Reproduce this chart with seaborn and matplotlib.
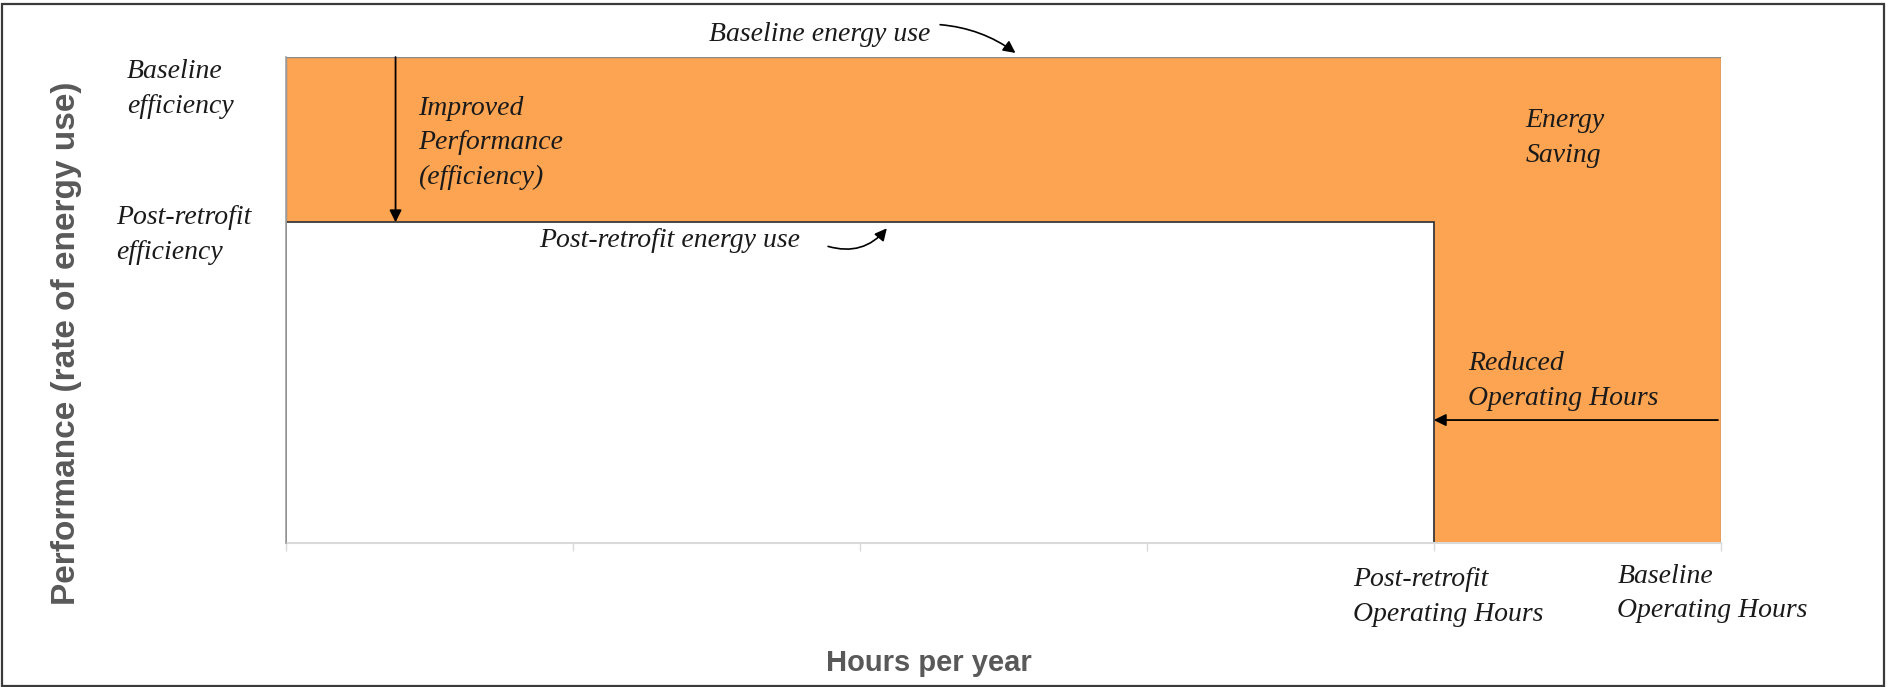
import matplotlib
matplotlib.use("Agg")
import matplotlib.pyplot as plt
import matplotlib.patches as mpatches
import matplotlib.transforms as mtransforms
import seaborn as sns

# --- data (schematic units) ---
scenarios = ["Baseline", "Post-retrofit"]
operating_hours = [5.0, 4.0]        # hours per year (relative)
efficiency = [1.0, 0.66]            # rate of energy use (relative)
bar_colors = ["#FCA451", "white"]
hour_ticks = [0, 1, 2, 3, 4, 5]

sns.set_theme(style="white")
serif = {"family": ["Liberation Serif", "DejaVu Serif"], "style": "italic",
         "color": "#1a1a1a", "fontsize": 20, "linespacing": 1.5}
axis_font = {"weight": "bold", "color": "#595959",
             "family": ["Liberation Sans", "DejaVu Sans"]}

fig = plt.figure(figsize=(18.91, 6.87), dpi=100)
ax = fig.add_axes([0.1512, 0.2096, 0.7588, 0.7074])

# energy-use rectangles: width = hours, height = rate
ax.bar(0, efficiency[0], width=operating_hours[0], align="edge",
       color=bar_colors[0], edgecolor="#8a8a8a", linewidth=1.0, zorder=1)
ax.bar(0, efficiency[1], width=operating_hours[1], align="edge",
       color=bar_colors[1], edgecolor="#3a3a3a", linewidth=1.3, zorder=2)

ax.set_xlim(0, operating_hours[0])
ax.set_ylim(0, efficiency[0])
ax.set_xticks(hour_ticks)
ax.set_xticklabels([])
ax.set_yticks([])
ax.tick_params(axis="x", bottom=True, length=6, width=1, color="#d9d9d9")
sns.despine(ax=ax, top=True, right=True)
ax.spines["left"].set_color("#a0a0a0")
ax.spines["left"].set_linewidth(1.2)
ax.spines["bottom"].set_color("#d9d9d9")
ax.spines["bottom"].set_linewidth(1.5)
ax.spines["left"].set_zorder(3)

# y-side labels
ytrans = mtransforms.blended_transform_factory(ax.transAxes, ax.transData)
ax.text(-0.111, efficiency[0] - 0.005, "Baseline\nefficiency", transform=ytrans,
        ha="left", va="top", clip_on=False, **serif)
ax.text(-0.118, efficiency[1] + 0.035, "Post-retrofit\nefficiency", transform=ytrans,
        ha="left", va="top", clip_on=False, **serif)

# x-side labels
ax.text(3.72, -0.05, "Post-retrofit\nOperating Hours", ha="left", va="top",
        clip_on=False, **serif)
ax.text(4.64, -0.043, "Baseline\nOperating Hours", ha="left", va="top",
        clip_on=False, **serif)

# annotations
ax.text(1.86, 1.047, "Baseline energy use", ha="center", va="center",
        clip_on=False, **serif)
ax.annotate("", xy=(2.55, 1.005), xytext=(2.27, 1.067), annotation_clip=False,
            arrowprops=dict(arrowstyle="-|>", color="black", lw=1.2,
                            mutation_scale=18, connectionstyle="arc3,rad=-0.15"))

ax.text(0.882, 0.623, "Post-retrofit energy use", ha="left", va="center", **serif)
ax.annotate("", xy=(2.10, 0.652), xytext=(1.88, 0.612),
            arrowprops=dict(arrowstyle="-|>", color="black", lw=1.2,
                            mutation_scale=18, connectionstyle="arc3,rad=0.35"))

ax.text(0.462, 0.92, "Improved\nPerformance\n(efficiency)", ha="left", va="top", **serif)
ax.annotate("", xy=(0.382, efficiency[1]), xytext=(0.382, efficiency[0]),
            arrowprops=dict(arrowstyle="-|>", color="black", lw=1.3,
                            mutation_scale=18, shrinkA=0, shrinkB=0))

ax.text(4.32, 0.895, "Energy\nSaving", ha="left", va="top", **serif)

ax.text(4.118, 0.395, "Reduced\nOperating Hours", ha="left", va="top", **serif)
ax.annotate("", xy=(operating_hours[1], 0.253), xytext=(4.99, 0.253),
            arrowprops=dict(arrowstyle="-|>", color="black", lw=1.3,
                            mutation_scale=18, shrinkA=0, shrinkB=0))

# axis titles
fig.text(0.035, 0.5, "Performance (rate of energy use)", rotation=90,
         ha="center", va="center", fontsize=24, **axis_font)
fig.text(0.491, 0.035, "Hours per year", ha="center", va="center",
         fontsize=21, **axis_font)

# outer frame
fig.add_artist(mpatches.Rectangle((0.001, 0.0015), 0.9953, 0.9925,
                                  transform=fig.transFigure, fill=False,
                                  edgecolor="#3a3a3a", linewidth=1.6))

fig.savefig("out.png", dpi=100)
